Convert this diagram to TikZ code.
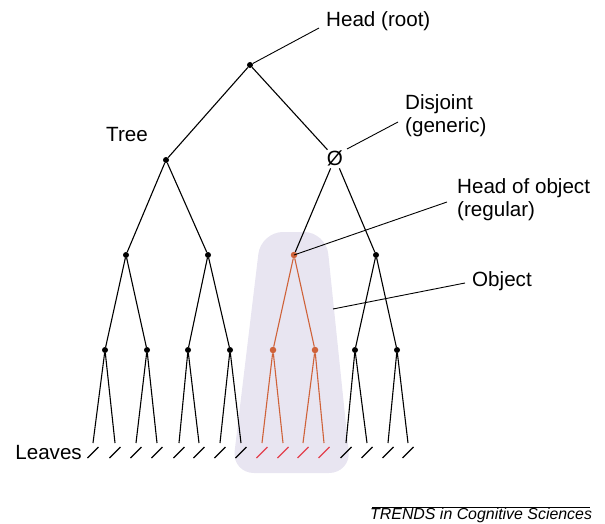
\documentclass[tikz,border=0pt]{standalone}
\usepackage{fontspec}
\setmainfont{Liberation Sans}
\definecolor{objfill}{HTML}{E8E5F1}
\definecolor{objline}{HTML}{CF6239}
\definecolor{objleaf}{HTML}{E3404E}
\tikzset{
  branch/.style={line width=1.1pt, black},
  objbranch/.style={line width=1.1pt, objline},
  dot/.style={circle, fill=black, inner sep=0pt, minimum size=6pt},
  objdot/.style={circle, fill=objline, inner sep=0pt, minimum size=6.5pt},
  leafmark/.style={line width=1.1pt, black},
  objleafmark/.style={line width=1.1pt, objleaf},
  pointer/.style={line width=0.9pt, black},
  lbl/.style={font=\fontsize{20.6}{23}\selectfont, inner sep=0pt, align=left},
}
\begin{document}
\begin{tikzpicture}[x=1pt, y=-1pt]
\useasboundingbox (0,0) rectangle (605,524);

% shaded region around the object subtree
\fill[objfill, rounded corners=22pt] (261,232) -- (326,232) -- (351,473) -- (232,473) -- cycle;

% tree nodes
\node[dot] (r) at (250,65) {};
\node[dot] (a) at (166,160) {};
\node[circle, inner sep=0pt, minimum size=20pt, font=\fontsize{20.6}{23}\selectfont] (b) at (335,158) {Ø};
\node[dot] (aa) at (126,255) {};
\node[dot] (ab) at (208,255) {};
\node[dot] (ba) at (376,255) {};
\node[objdot] (ho) at (294,255) {};
\node[dot] (n1) at (105,350) {};
\node[dot] (n2) at (147,350) {};
\node[dot] (n3) at (188,350) {};
\node[dot] (n4) at (230,350) {};
\node[objdot] (n5) at (273,350) {};
\node[objdot] (n6) at (315,350) {};
\node[dot] (n7) at (355,350) {};
\node[dot] (n8) at (397,350) {};

% leaf ends
\foreach \i/\x in {1/93,2/115,3/136,4/157,5/179,6/199,7/220,8/241,9/262,10/283,11/303,12/324,13/346,14/367,15/388,16/408}
  \coordinate (l\i) at (\x,443);

% branches
\draw[branch] (r) -- (a);
\draw[branch] (r) -- (b);
\draw[branch] (a) -- (aa);
\draw[branch] (a) -- (ab);
\draw[branch] (b) -- (ho);
\draw[branch] (b) -- (ba);
\draw[branch] (aa) -- (n1);
\draw[branch] (aa) -- (n2);
\draw[branch] (ab) -- (n3);
\draw[branch] (ab) -- (n4);
\draw[objbranch] (ho) -- (n5);
\draw[objbranch] (ho) -- (n6);
\draw[branch] (ba) -- (n7);
\draw[branch] (ba) -- (n8);
\foreach \p/\u/\v in {n1/1/2,n2/3/4,n3/5/6,n4/7/8,n7/13/14,n8/15/16}
  \draw[branch] (\p) -- (l\u) (\p) -- (l\v);
\foreach \p/\u/\v in {n5/9/10,n6/11/12}
  \draw[objbranch] (\p) -- (l\u) (\p) -- (l\v);

% leaf marks
\foreach \i in {1,...,8,13,14,15,16}
  \draw[leafmark] ([shift={(-5.5,15)}]l\i) -- ([shift={(5.5,4)}]l\i);
\foreach \i in {9,...,12}
  \draw[objleafmark] ([shift={(-5.5,15)}]l\i) -- ([shift={(5.5,4)}]l\i);

% labels
\node[lbl, anchor=base west] (hr) at (326,27) {Head (root)};
\node[lbl] (tree) at (127,135) {Tree};
\node[lbl, anchor=west] (dj) at (405,116) {Disjoint\\(generic)};
\node[lbl, anchor=west] (hob) at (457,200) {Head of object\\(regular)};
\node[lbl, anchor=west] (obj) at (472,281) {Object};
\node[lbl, anchor=east] (lv) at (82,453) {Leaves};

% label pointers
\coordinate (hrp) at (319,28);
\coordinate (djp) at (398,122);
\coordinate (hobp) at (447,202);
\coordinate (objp) at (465,283);
\coordinate (objq) at (333,309);
\coordinate (djq) at (347,149);
\draw[pointer] (r) -- (hrp);
\draw[pointer] (djq) -- (djp);
\draw[pointer] (ho.center) -- (hobp);
\draw[pointer] (objq) -- (objp);

% source line
\coordinate (s1) at (372,507);
\coordinate (s2) at (590,507);
\draw[line width=0.7pt] (s1) -- (s2);
\node[font=\fontsize{15.9}{18}\itshape, anchor=base west, inner sep=0pt] (src) at (370,519.5) {TRENDS in Cognitive Sciences};
\end{tikzpicture}
\end{document}
